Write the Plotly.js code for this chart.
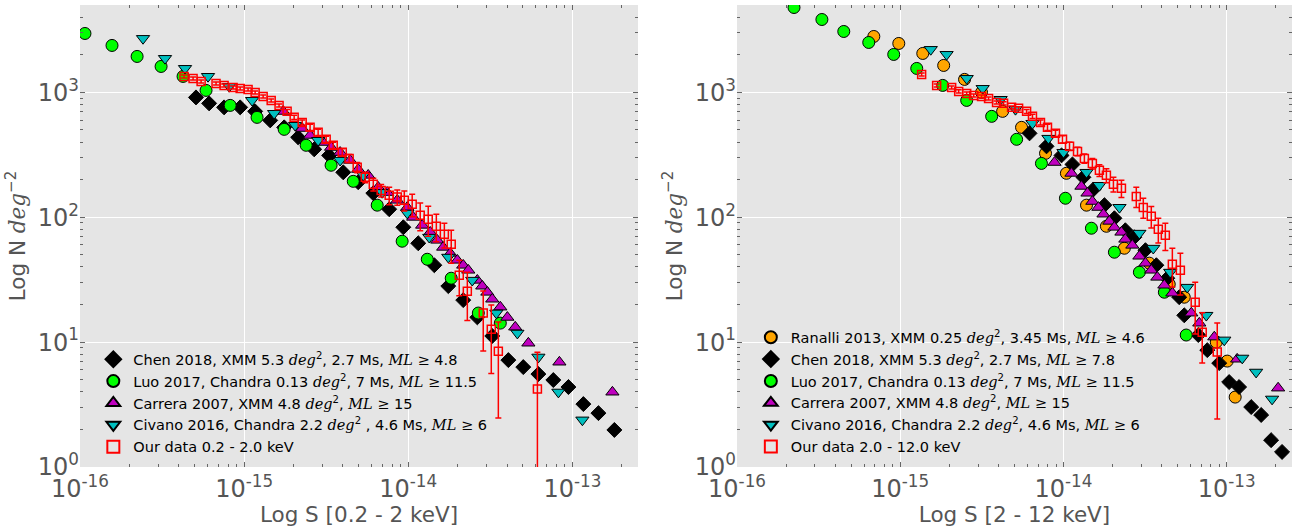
<!DOCTYPE html>
<html><head><meta charset="utf-8">
<script src="https://cdn.plot.ly/plotly-3.0.1.min.js"></script>
<style>html,body{margin:0;padding:0;background:#fff}</style>
</head><body><div id="chart" style="width:1305px;height:527px"></div>
<script>
// ---------- Soft band (0.2 - 2 keV) ----------
const chenSoftS = [5.09e-16,6.12e-16,7.55e-16,9.46e-16,1.167e-15,1.442e-15,1.754e-15,2.133e-15,2.673e-15,3.296e-15,4.018e-15,4.955e-15,6.124e-15,7.656e-15,9.333e-15,1.151e-14,1.442e-14,1.754e-14,2.163e-14,2.636e-14,3.251e-14,4.074e-14,5.023e-14,6.209e-14,7.656e-14,9.462e-14,1.167e-13,1.442e-13,1.803e-13];
const chenSoftN = [912,817,759,759,705,597,525,437,350,313,229,191,156,116,83.2,61.9,41.3,28.1,21.7,15.8,11.2,7.18,6.31,5.55,4.97,4.37,3.19,2.70,1.98];
const luoSoftS = [1.072e-16,1.567e-16,2.228e-16,3.119e-16,4.246e-16,5.861e-16,8.222e-16,1.199e-15,1.754e-15,2.388e-15,3.388e-15,4.624e-15,6.471e-15,9.183e-15,1.306e-14,1.828e-14,2.673e-14,3.639e-14];
const luoSoftN = [2965,2377,1941,1614,1343,1038,787,631,506,377,261,194,125,64.3,46.1,32.5,17.1,14.2];
const carreraSoftS = [1.730e-15,2.259e-15,2.523e-15,3.034e-15,3.388e-15,3.846e-15,4.426e-15,4.955e-15,5.702e-15,6.561e-15,7.447e-15,8.570e-15,9.863e-15,1.072e-14,1.216e-14,1.361e-14,1.503e-14,1.633e-14,1.803e-14,1.991e-14,2.163e-14,2.323e-14,2.636e-14,2.825e-14,3.034e-14,3.251e-14,3.639e-14,4.018e-14,4.487e-14,5.395e-14,8.337e-14,1.754e-13];
const carreraSoftN = [705,515,453,398,363,331,286,242,217,174,158,137,120,100,86.3,75.9,65.5,57.5,51.5,45.3,41.3,37.7,31.3,28.1,25.1,22.1,19.1,15.8,13.2,9.82,6.92,3.98];
const civanoSoftS = [2.421e-16,3.296e-16,4.365e-16,6.026e-16,8.110e-16,1.119e-15,1.524e-15,2.046e-15,2.825e-15,3.846e-15,5.321e-15,6.934e-15,9.863e-15,1.343e-14,1.754e-14,2.455e-14,3.443e-14,4.624e-14,6.209e-14,8.222e-14,1.151e-13];
const civanoSoftN = [2704,1871,1556,1343,1117,863,679,545,413,286,217,158,108,69.2,47.9,31.3,17.1,11.8,7.59,3.98,2.38];
const oursSoftS = [4.305e-16,4.887e-16,5.470e-16,6.745e-16,7.551e-16,8.570e-16,9.462e-16,1.057e-15,1.167e-15,1.306e-15,1.462e-15,1.633e-15,1.828e-15,2.018e-15,2.259e-15,2.523e-15,2.825e-15,3.162e-15,3.491e-15,3.963e-15,4.365e-15,4.887e-15,5.470e-15,6.124e-15,6.839e-15,7.656e-15,8.570e-15,9.462e-15,1.057e-14,1.183e-14,1.324e-14,1.483e-14,1.660e-14,1.828e-14,2.046e-14,2.291e-14,2.864e-14,3.206e-14,3.540e-14,6.124e-14];
const oursSoftN = [1343,1294,1225,1180,1138,1096,1076,1057,1000,929,863,787,705,631,575,525,479,421,377,331,296,251,209,184,164,150,145,137,127,104,96.4,84.7,73.1,60.8,34.4,25.6,17.1,12.7,8.47,4.21];
const oursSoftErr = [38,36,34,33,32,31,30,30,28,26,24,22,26,24,27,30,27,24,21,22,22,24,20,21.5,19,24,20,25,26,26,26,21,16.4,17.9,10.9,10.7,8.6,7.1,6.0,4.1];

// ---------- Hard band (2 - 12 keV) ----------
const ranalliHardS = [6.887e-16,9.795e-16,1.374e-15,1.845e-15,2.477e-15,3.148e-15,4.236e-15,5.534e-15,7.762e-15,1.042e-14,1.384e-14,1.832e-14,2.360e-14,3.357e-14,4.446e-14,5.495e-14,8.630e-14,1.007e-13,1.127e-13];
const ranalliHardN = [2805,2466,2051,1644,1271,1000,705,525,325,225,125,84.7,56.5,42.9,29.1,22.9,10.0,7.05,3.63];
const chenHardS = [6.194e-15,7.870e-15,9.727e-15,1.135e-14,1.324e-14,1.524e-14,1.782e-14,2.051e-14,2.393e-14,2.716e-14,3.177e-14,3.707e-14,4.325e-14,5.117e-14,5.495e-14,6.699e-14,7.603e-14,8.995e-14,1.035e-13,1.191e-13,1.413e-13,1.626e-13,1.871e-13,2.183e-13];
const chenHardN = [470,370,313,265,209,167,125,98.2,78.7,69.2,54.5,41.3,32.5,22.9,16.4,11.4,8.63,6.79,4.79,4.37,3.02,2.61,1.64,1.32];
const luoHardS = [2.234e-16,3.311e-16,4.508e-16,6.412e-16,9.120e-16,1.262e-15,1.820e-15,2.553e-15,3.631e-15,5.164e-15,7.328e-15,1.028e-14,1.483e-14,2.051e-14,2.917e-14,4.150e-14,5.649e-14];
const luoHardN = [4786,3837,3076,2512,2014,1556,1138,863,643,421,270,142,81.7,52.5,36.3,25.1,11.4];
const carreraHardS = [8.810e-15,1.119e-14,1.288e-14,1.403e-14,1.503e-14,1.637e-14,1.758e-14,1.910e-14,2.051e-14,2.265e-14,2.393e-14,2.642e-14,2.917e-14,3.177e-14,3.451e-14,3.758e-14,4.150e-14,4.645e-14,6.067e-14,6.792e-14,8.395e-14,1.159e-13,2.065e-13];
const carreraHardN = [275,225,177,156,134,120,106,92.9,83.2,75.9,66.7,59.7,48.8,42.9,37.7,33.1,28.6,24.7,17.1,14.2,11.0,7.31,4.29];
const civanoHardS = [1.538e-15,1.923e-15,2.553e-15,3.199e-15,4.121e-15,5.082e-15,6.457e-15,8.091e-15,1.000e-14,1.384e-14,1.660e-14,2.203e-14,2.917e-14,3.548e-14,4.508e-14,5.728e-14,7.499e-14,9.661e-14,1.245e-13,1.514e-13,1.897e-13];
const civanoHardN = [2208,2014,1294,1076,879,731,565,429,331,229,180,120,74.5,56.5,36.3,27.5,16.4,10.4,7.45,5.75,3.50];
const oursHardS = [1.352e-15,1.671e-15,2.065e-15,2.280e-15,2.553e-15,2.818e-15,3.148e-15,3.475e-15,3.890e-15,4.295e-15,4.808e-15,5.309e-15,5.943e-15,6.457e-15,7.228e-15,7.980e-15,8.933e-15,9.863e-15,1.089e-14,1.219e-14,1.343e-14,1.503e-14,1.660e-14,1.832e-14,2.023e-14,2.265e-14,2.793e-14,3.083e-14,3.451e-14,3.811e-14,4.207e-14,4.645e-14,5.200e-14,6.412e-14,7.079e-14,8.750e-14];
const oursHardN = [1393,1138,1096,1019,982,946,929,895,832,817,759,745,705,643,575,525,470,421,370,337,296,270,238,217,184,171,147,120,102,80.2,71.8,42.1,37.7,20.9,12.0,8.32];
const oursHardErr = [39,32,31,29,27,26,26,25,23,23,21,21,26,24,27,30,27,28,28,26,25,26,26,28,25,27,27,22,20,18,17.7,14.4,13.8,9.3,5.2,5.9];

// ---------- Labels ----------
const xTickVals = [1e-16,1e-15,1e-14,1e-13];
const xTickText = ['10<sup>-16</sup>','10<sup>-15</sup>','10<sup>-14</sup>','10<sup>-13</sup>'];
const yTickVals = [1,10,100,1000];
const yTickText = ['10<sup>0</sup>','10<sup>1</sup>','10<sup>2</sup>','10<sup>3</sup>'];

const m = s => '<span style="font-family:\'DejaVu Serif\'"><i>' + s + '</i></span>';
const DEG2 = m('deg') + '<sup>2</sup>';
const ML = m('ML') + ' ' + '<span style="font-family:\'DejaVu Serif\'">≥</span>';

const softNames = [
  'Chen 2018, XMM 5.3 ' + DEG2 + ', 2.7 Ms, ' + ML + ' 4.8',
  'Luo 2017, Chandra 0.13 ' + DEG2 + ', 7 Ms, ' + ML + ' 11.5',
  'Carrera 2007, XMM 4.8 ' + DEG2 + ', ' + ML + ' 15',
  'Civano 2016, Chandra 2.2 ' + DEG2 + ' , 4.6 Ms, ' + ML + ' 6',
  'Our data 0.2 - 2.0 keV'
];
const hardNames = [
  'Ranalli 2013, XMM 0.25 ' + DEG2 + ', 3.45 Ms, ' + ML + ' 4.6',
  'Chen 2018, XMM 5.3 ' + DEG2 + ', 2.7 Ms, ' + ML + ' 7.8',
  'Luo 2017, Chandra 0.13 ' + DEG2 + ', 7 Ms, ' + ML + ' 11.5',
  'Carrera 2007, XMM 4.8 ' + DEG2 + ', ' + ML + ' 15',
  'Civano 2016, Chandra 2.2 ' + DEG2 + ', 4.6 Ms, ' + ML + ' 6',
  'Our data 2.0 - 12.0 keV'
];

// ---------- Styles ----------
const ST = {
  chen:    {symbol:'diamond', color:'#000000', size:11.5},
  luo:     {symbol:'circle', color:'#00ff00', size:12},
  carrera: {symbol:'triangle-up', color:'#bf00bf', size:11.5},
  civano:  {symbol:'triangle-down', color:'#00bfbf', size:11.5},
  ranalli: {symbol:'circle', color:'#ffa500', size:12}
};

function pts(x, y, name, st, xa, ya, leg) {
  return {type:'scatter', mode:'markers', x:x, y:y, name:name, xaxis:xa, yaxis:ya, legend:leg,
    marker:{symbol:st.symbol, color:st.color, size:st.size, line:{color:'#000', width:1}},
    hoverinfo:'x+y'};
}
function ours(x, y, e, name, xa, ya, leg) {
  return {type:'scatter', mode:'markers', x:x, y:y, name:name, xaxis:xa, yaxis:ya, legend:leg,
    marker:{symbol:'square-open', color:'#ff0000', size:8, line:{color:'#ff0000', width:1.5}},
    error_y:{type:'data', array:e, visible:true, color:'#ff0000', thickness:1.5, width:3}};
}

const data = [
  pts(chenSoftS, chenSoftN, softNames[0], ST.chen, 'x', 'y', 'legend'),
  pts(luoSoftS, luoSoftN, softNames[1], ST.luo, 'x', 'y', 'legend'),
  pts(carreraSoftS, carreraSoftN, softNames[2], ST.carrera, 'x', 'y', 'legend'),
  pts(civanoSoftS, civanoSoftN, softNames[3], ST.civano, 'x', 'y', 'legend'),
  ours(oursSoftS, oursSoftN, oursSoftErr, softNames[4], 'x', 'y', 'legend'),
  pts(ranalliHardS, ranalliHardN, hardNames[0], ST.ranalli, 'x2', 'y2', 'legend2'),
  pts(chenHardS, chenHardN, hardNames[1], ST.chen, 'x2', 'y2', 'legend2'),
  pts(luoHardS, luoHardN, hardNames[2], ST.luo, 'x2', 'y2', 'legend2'),
  pts(carreraHardS, carreraHardN, hardNames[3], ST.carrera, 'x2', 'y2', 'legend2'),
  pts(civanoHardS, civanoHardN, hardNames[4], ST.civano, 'x2', 'y2', 'legend2'),
  ours(oursHardS, oursHardN, oursHardErr, hardNames[5], 'x2', 'y2', 'legend2')
];

const tickFont = {family:'DejaVu Sans', size:24, color:'#555555'};
const titleFont = {family:'DejaVu Sans', size:21.5, color:'#555555'};
const minor = {ticks:'inside', ticklen:3, tickcolor:'#666', tickwidth:1, dtick:'D1', showgrid:false};

function xax(dom, title, anchor) {
  return {type:'log', range:[-16,-12.6], domain:dom, anchor:anchor,
    tickmode:'array', tickvals:xTickVals, ticktext:xTickText, tickfont:tickFont,
    ticks:'inside', ticklen:5, tickcolor:'#666', mirror:'ticks', showline:false,
    ticklabelstandoff:5,
    showgrid:true, gridcolor:'#ffffff', gridwidth:1, zeroline:false, minor:minor,
    title:{text:title, font:titleFont, standoff:0}};
}
function yax(anchor) {
  return {type:'log', range:[0,3.7], domain:[0,1], anchor:anchor,
    tickmode:'array', tickvals:yTickVals, ticktext:yTickText, tickfont:tickFont,
    ticks:'inside', ticklen:5, tickcolor:'#666', mirror:'ticks', showline:false,
    showgrid:true, gridcolor:'#ffffff', gridwidth:1, zeroline:false, minor:minor,
    title:{text:'Log N ' + m('deg') + '<sup>−2</sup>', font:titleFont, standoff:6}};
}

const legFont = {family:'DejaVu Sans', size:14.5, color:'#000'};
const layout = {
  width:1305, height:527,
  margin:{l:80, r:13, t:5, b:60},
  paper_bgcolor:'#ffffff', plot_bgcolor:'#e5e5e5',
  font:{family:'DejaVu Sans'},
  xaxis: xax([0, 0.4604], 'Log S [0.2 - 2 keV]', 'y'),
  yaxis: yax('x'),
  xaxis2: xax([0.5421, 1], 'Log S [2 - 12 keV]', 'y2'),
  yaxis2: yax('x2'),
  showlegend:true,
  legend:{x:0.011, y:0.008, xanchor:'left', yanchor:'bottom', bgcolor:'rgba(0,0,0,0)', font:legFont, itemsizing:'constant'},
  legend2:{x:0.5535, y:0.008, xanchor:'left', yanchor:'bottom', bgcolor:'rgba(0,0,0,0)', font:legFont, itemsizing:'constant'}
};

Plotly.newPlot('chart', data, layout, {displayModeBar:false, staticPlot:true});
</script></body></html>
